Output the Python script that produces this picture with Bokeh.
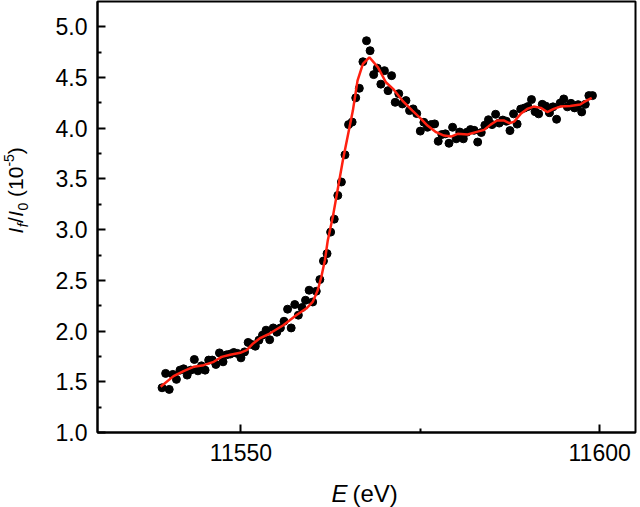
import math
from bokeh.plotting import figure
from bokeh.models import Range1d, FixedTicker, NumeralTickFormatter
from bokeh.core.properties import value
from bokeh.layouts import column, row
from bokeh.embed import file_html
from bokeh.resources import INLINE

# ---- data ----
energy = [
    11539.0, 11539.5, 11540.0, 11540.5, 11541.0, 11541.5, 11542.0, 11542.5, 11543.0, 11543.5,
    11544.0, 11544.5, 11545.0, 11545.5, 11546.0, 11546.5, 11547.0, 11547.5, 11548.0, 11548.5,
    11549.0, 11549.5, 11550.0, 11550.5, 11551.0, 11551.5, 11552.0, 11552.5, 11553.0, 11553.5,
    11554.0, 11554.5, 11555.0, 11555.5, 11556.0, 11556.5, 11557.0, 11557.5, 11558.0, 11558.5,
    11559.0, 11559.5, 11560.0, 11560.5, 11561.0, 11561.5, 11562.0, 11562.5, 11563.0, 11563.5,
    11564.0, 11564.5, 11565.0, 11565.5, 11566.0, 11566.5, 11567.0, 11567.5, 11568.0, 11568.5,
    11569.0, 11569.5, 11570.0, 11570.5, 11571.0, 11571.5, 11572.0, 11572.5, 11573.0, 11573.5,
    11574.0, 11574.5, 11575.0, 11575.5, 11576.0, 11576.5, 11577.0, 11577.5, 11578.0, 11578.5,
    11579.0, 11579.5, 11580.0, 11580.5, 11581.0, 11581.5, 11582.0, 11582.5, 11583.0, 11583.5,
    11584.0, 11584.5, 11585.0, 11585.5, 11586.0, 11586.5, 11587.0, 11587.5, 11588.0, 11588.5,
    11589.0, 11589.5, 11590.0, 11590.5, 11591.0, 11591.5, 11592.0, 11592.5, 11593.0, 11593.5,
    11594.0, 11594.5, 11595.0, 11595.5, 11596.0, 11596.5, 11597.0, 11597.5, 11598.0, 11598.5,
    11599.0,
]
intensity = [
    1.441, 1.583, 1.425, 1.573, 1.524, 1.615, 1.628, 1.566, 1.615, 1.720,
    1.608, 1.657, 1.615, 1.714, 1.714, 1.671, 1.785, 1.697, 1.766, 1.773,
    1.789, 1.780, 1.736, 1.795, 1.888, 1.868, 1.851, 1.910, 1.960, 2.009,
    1.915, 2.031, 1.989, 2.031, 2.097, 2.216, 2.031, 2.262, 2.157, 2.232,
    2.304, 2.403, 2.287, 2.393, 2.508, 2.691, 2.764, 2.976, 3.104, 3.338,
    3.470, 3.738, 4.036, 4.061, 4.300, 4.394, 4.656, 4.863, 4.765, 4.529,
    4.593, 4.435, 4.568, 4.371, 4.519, 4.256, 4.341, 4.240, 4.273, 4.174,
    4.191, 4.145, 3.972, 4.059, 4.010, 4.036, 4.043, 3.872, 3.938, 3.945,
    3.852, 4.010, 3.896, 3.963, 3.896, 3.961, 3.987, 3.980, 3.864, 3.958,
    4.030, 4.084, 4.036, 4.138, 4.051, 4.081, 4.069, 3.977, 4.142, 4.041,
    4.189, 4.199, 4.214, 4.283, 4.164, 4.142, 4.236, 4.218, 4.154, 4.211,
    4.089, 4.248, 4.289, 4.211, 4.246, 4.201, 4.233, 4.161, 4.236, 4.322,
    4.322,
]
fit_energy = [
    11538.8, 11540.6, 11542.0, 11543.4, 11544.8, 11546.2, 11547.3, 11548.5, 11549.9, 11550.8,
    11551.7, 11552.6, 11554.0, 11555.9, 11557.7, 11559.1, 11560.0, 11560.7, 11561.2, 11561.7,
    11562.1, 11562.8, 11564.2, 11565.6, 11566.25, 11567.0, 11567.9, 11569.1, 11570.2, 11571.2,
    11572.5, 11573.9, 11575.1, 11576.0, 11577.2, 11578.3, 11579.3, 11580.2, 11581.6, 11583.0,
    11583.9, 11584.8, 11585.7, 11586.7, 11587.4, 11588.1, 11589.0, 11589.9, 11590.8, 11591.8,
    11592.7, 11593.6, 11594.5, 11595.9, 11597.3, 11597.8, 11598.9,
]
fit_intensity = [
    1.451, 1.556, 1.605, 1.648, 1.664, 1.697, 1.746, 1.766, 1.786, 1.812,
    1.878, 1.927, 1.976, 2.058, 2.156, 2.222, 2.287, 2.402, 2.533, 2.698,
    2.894, 3.124, 3.682, 4.174, 4.470, 4.634, 4.700, 4.601, 4.454, 4.389,
    4.273, 4.174, 4.093, 4.027, 3.961, 3.928, 3.918, 3.945, 3.938, 3.967,
    3.984, 4.036, 4.076, 4.076, 4.050, 4.066, 4.142, 4.191, 4.214, 4.201,
    4.160, 4.191, 4.214, 4.219, 4.234, 4.257, 4.300,
]
x_ticks = [11550, 11600]
x_minor_ticks = [11575]
y_ticks = [1.0, 1.5, 2.0, 2.5, 3.0, 3.5, 4.0, 4.5, 5.0]
y_minor_ticks = [1.25, 1.75, 2.25, 2.75, 3.25, 3.75, 4.25, 4.75]
x_lo, x_hi = 11530, 11605
y_lo, y_hi = 1.0, 5.25

FONT = "Liberation Sans"
BORDER_TOP, BORDER_BOTTOM = 1, 42
MAIN_H = 474

# ---------------- main plot ----------------
p = figure(width=600, height=MAIN_H, output_backend="svg", toolbar_location=None,
           x_range=Range1d(x_lo, x_hi), y_range=Range1d(y_lo, y_hi),
           min_border_left=57, min_border_right=5,
           min_border_top=BORDER_TOP, min_border_bottom=BORDER_BOTTOM)
p.background_fill_color = "white"
p.border_fill_color = "white"
p.xgrid.visible = False
p.ygrid.visible = False
p.outline_line_color = "black"
p.outline_line_width = 2
p.outline_line_alpha = 1

for ax in (p.xaxis[0], p.yaxis[0]):
    ax.axis_line_color = "black"
    ax.axis_line_width = 2
    ax.major_tick_line_color = "black"
    ax.minor_tick_line_color = "black"
    ax.major_tick_line_width = 2
    ax.minor_tick_line_width = 2
    ax.major_tick_in = 8
    ax.major_tick_out = 0
    ax.minor_tick_in = 4
    ax.minor_tick_out = 0
    ax.major_label_text_font = FONT
    ax.major_label_text_font_size = "23px"
    ax.major_label_text_color = "black"

p.xaxis.ticker = FixedTicker(ticks=x_ticks, minor_ticks=x_minor_ticks)
p.yaxis.ticker = FixedTicker(ticks=y_ticks, minor_ticks=y_minor_ticks)
p.xaxis.formatter = NumeralTickFormatter(format="0")
p.yaxis.formatter = NumeralTickFormatter(format="0.0")
p.xaxis.major_label_standoff = 11
p.yaxis.major_label_standoff = 10

p.scatter(energy, intensity, size=8, color="black", marker="circle")
p.line(fit_energy, fit_intensity, line_color="#ff2010", line_width=2.5)


def label_panel(w, h, top=0, bottom=0):
    f = figure(width=w, height=h, output_backend="svg", toolbar_location=None,
               x_range=Range1d(0, w), y_range=Range1d(0, h - top - bottom),
               x_axis_type=None, y_axis_type=None,
               min_border=0, min_border_left=0, min_border_right=0,
               min_border_top=top, min_border_bottom=bottom)
    f.outline_line_color = None
    f.background_fill_color = "white"
    f.border_fill_color = "white"
    return f


# ---------------- y-axis title: I_f/I_0 (10^-5) ----------------
# frame of this panel is aligned with the main frame (page y 1..432)
yl = label_panel(40, MAIN_H, BORDER_TOP, BORDER_BOTTOM)
ypieces = [
    # text, position along the text, centre line x, size, style
    ("I", 199.0, 15, "21px", "italic"),
    ("f", 205.2, 22, "14px", "italic"),
    ("/", 209.5, 15, "21px", "normal"),
    ("I", 215.7, 15, "21px", "italic"),
    ("0", 222.0, 22, "14px", "normal"),
    ("(10", 235.6, 15, "21px", "normal"),
    ("-5", 265.9, 8, "14px", "normal"),
    (")", 278.3, 15, "21px", "normal"),
]
for txt, ypos, xpos, fs, style in ypieces:
    yl.text(x=[xpos], y=[ypos], text=[txt], angle=math.pi / 2,
            text_align="left", text_baseline="middle",
            text_font=value(FONT), text_font_size=value(fs),
            text_font_style=style, text_color="black")

# ---------------- x-axis title: E (eV) ----------------
xl = label_panel(640, 33)
xl.text(x=[347], y=[14], text=["E"], text_align="right", text_baseline="middle",
        text_font=value(FONT), text_font_size=value("24px"),
        text_font_style="italic", text_color="black")
xl.text(x=[352], y=[14], text=["(eV)"], text_align="left", text_baseline="middle",
        text_font=value(FONT), text_font_size=value("24px"),
        text_font_style="normal", text_color="black")

layout = column(row(yl, p), xl)
open("out.html", "w").write(file_html(layout, INLINE))
